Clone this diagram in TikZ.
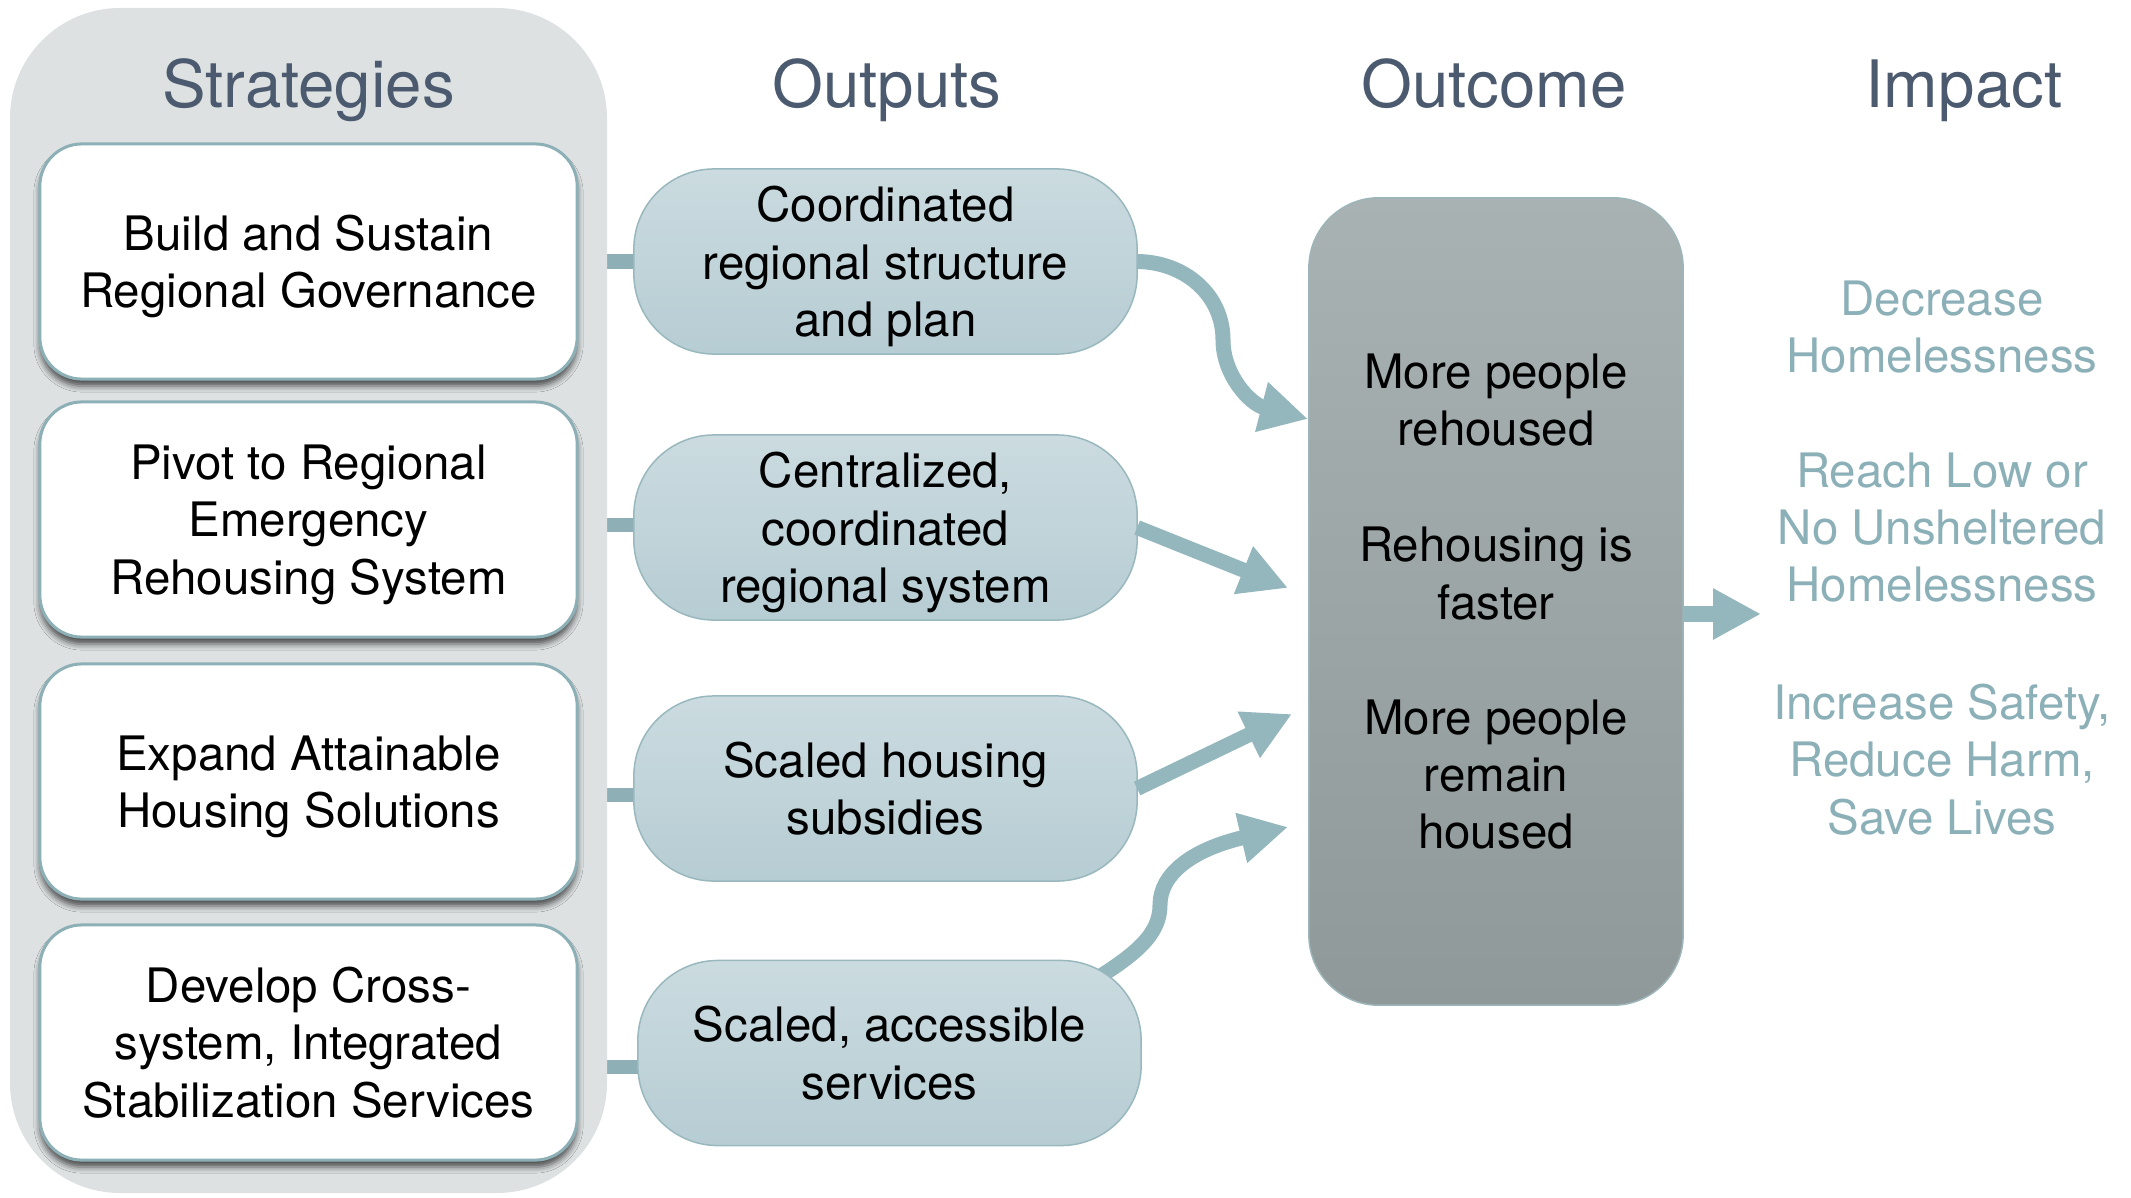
\documentclass[tikz,border=0pt]{standalone}
\usepackage{fontspec}
\setmainfont{TeX Gyre Heros}
\usetikzlibrary{arrows.meta,shadows.blur,calc}
\definecolor{panelgray}{HTML}{DDE1E2}
\definecolor{titleblue}{HTML}{4B5A6E}
\definecolor{arrowteal}{HTML}{94B7BE}
\definecolor{boxborder}{HTML}{8DB0B7}
\definecolor{pilltop}{HTML}{CBDBE0}
\definecolor{pillbot}{HTML}{B6CDD3}
\definecolor{pillborder}{HTML}{99B8BE}
\definecolor{outtop}{HTML}{A9B2B3}
\definecolor{outbot}{HTML}{8F999A}
\definecolor{outborder}{HTML}{9DB5B9}
\definecolor{impactteal}{HTML}{8CB0B8}
\definecolor{barteal}{HTML}{8EAFB5}
\newcommand\lastln[1]{\raisebox{0pt}[\height][0pt]{#1}}
\pgfdeclarelayer{bg}
\pgfsetlayers{bg,main}
\begin{document}
\begin{tikzpicture}[x=0.01cm,y=-0.01cm,
  every node/.style={inner sep=0pt,outer sep=0pt},
  bodyfont/.style={font=\fontsize{13.5pt}{16.3pt}\selectfont},
  titlefont/.style={font=\fontsize{18.6pt}{22pt}\selectfont,text=titleblue},
  stratbox/.style={bodyfont,draw=boxborder,line width=0.03cm,fill=white,
    rounded corners=0.42cm,minimum width=5.37cm,minimum height=2.35cm,align=center,
    blur shadow={shadow xshift=0cm,shadow yshift=-0.07cm,shadow blur radius=0.06cm,shadow opacity=65}},
  pill/.style={bodyfont,draw=pillborder,line width=0.015cm,top color=pilltop,bottom color=pillbot,
    rounded corners=0.8cm,minimum width=5.03cm,minimum height=1.85cm,align=center},
  outbox/.style={draw=outborder,line width=0.015cm,top color=outtop,bottom color=outbot,
    rounded corners=0.7cm,minimum width=3.74cm,minimum height=8.07cm},
  outtext/.style={bodyfont,align=center,text=black},
  impacttext/.style={bodyfont,align=center,text=impactteal},
  bar/.style={draw=barteal,line width=0.14cm},
  arr/.style={draw=arrowteal,line width=0.15cm,-{Triangle[length=0.48cm,width=0.48cm]}},
  bigarr/.style={draw=arrowteal,line width=0.16cm,-{Triangle[length=0.48cm,width=0.48cm]}}
]
\useasboundingbox (0,0) rectangle (2131,1197);
\fill[panelgray,rounded corners=1.1cm] (10,8) rectangle (607,1193);

% titles
\node[titlefont,anchor=base] (tstrat) at (308.5,108) {Strategies};
\node[titlefont,anchor=base] (tout) at (887,108) {Outputs};
\node[titlefont,anchor=base] (tcome) at (1494,108) {Outcome};
\node[titlefont,anchor=base] (timp) at (1964,108) {Impact};

% strategy boxes
\node[stratbox] (s1) at (308.5,261.5) {Build and Sustain\\\lastln{Regional Governance}};
\node[stratbox] (s2) at (308.5,519.5) {Pivot to Regional\\Emergency\\\lastln{Rehousing System}};
\node[stratbox] (s3) at (308.5,781.5) {Expand Attainable\\\lastln{Housing Solutions}};
\node[stratbox] (s4) at (308.5,1042.5) {Develop Cross-\\system, Integrated\\Stabilization Services};

% output pills
\node[pill] (p1) at (885.5,261.5) {Coordinated\\regional structure\\\lastln{and plan}};
\node[pill] (p2) at (885.5,527.5) {Centralized,\\coordinated\\\lastln{regional system}};
\node[pill] (p3) at (885.5,788.5) {Scaled housing\\subsidies};
\node[pill] (p4) at (889.5,1053) {Scaled, accessible\\services};

% outcome box
\node[outbox] (oc) at (1496,601.5) {};
\node[outtext] (o1) at (1496,400) {More people\\rehoused};
\node[outtext] (o2) at (1496,573.5) {Rehousing is\\faster};
\node[outtext] (o3) at (1496,774.5) {More people\\remain\\housed};

% impact texts
\node[impacttext] (i1) at (1942,327) {Decrease\\Homelessness};
\node[impacttext] (i2) at (1942,527.5) {Reach Low or\\No Unsheltered\\Homelessness};
\node[impacttext] (i3) at (1942,759.5) {Increase Safety,\\Reduce Harm,\\Save Lives};

% arrow end coordinates
\coordinate (t1) at (1308,419);
\coordinate (t2) at (1288,588);
\coordinate (t3) at (1292,714);
\coordinate (t4) at (1288,827);
\coordinate (t5) at (1761,614);

\begin{pgfonlayer}{bg}
  \draw[bar] (s1.east) -- (s1.east -| p1.center);
  \draw[bar] ([yshift=-0.055cm]s2.east) -- ([yshift=-0.055cm]s2.east -| p2.center);
  \draw[bar] ([yshift=-0.13cm]s3.east) -- ([yshift=-0.13cm]s3.east -| p3.center);
  \draw[bar] ([yshift=-0.245cm]s4.east) -- ([yshift=-0.245cm]s4.east -| p4.center);
  \draw[arr] ($(p4.center)+(200,-70)$) .. controls (1135,955) and (1160,935) .. (1160,905)
     .. controls (1160,875) and (1190,850) .. (t4);
\end{pgfonlayer}

% arrows
\draw[arr] (p1.east) .. controls (1185,262) and (1223,295) .. (1223,340)
   .. controls (1223,375) and (1250,404) .. (t1);
\draw[arr] (p2.east) -- (t2);
\draw[arr] (p3.east) -- (t3);
\draw[bigarr] (oc.east |- t5) -- (t5);
\end{tikzpicture}
\end{document}
